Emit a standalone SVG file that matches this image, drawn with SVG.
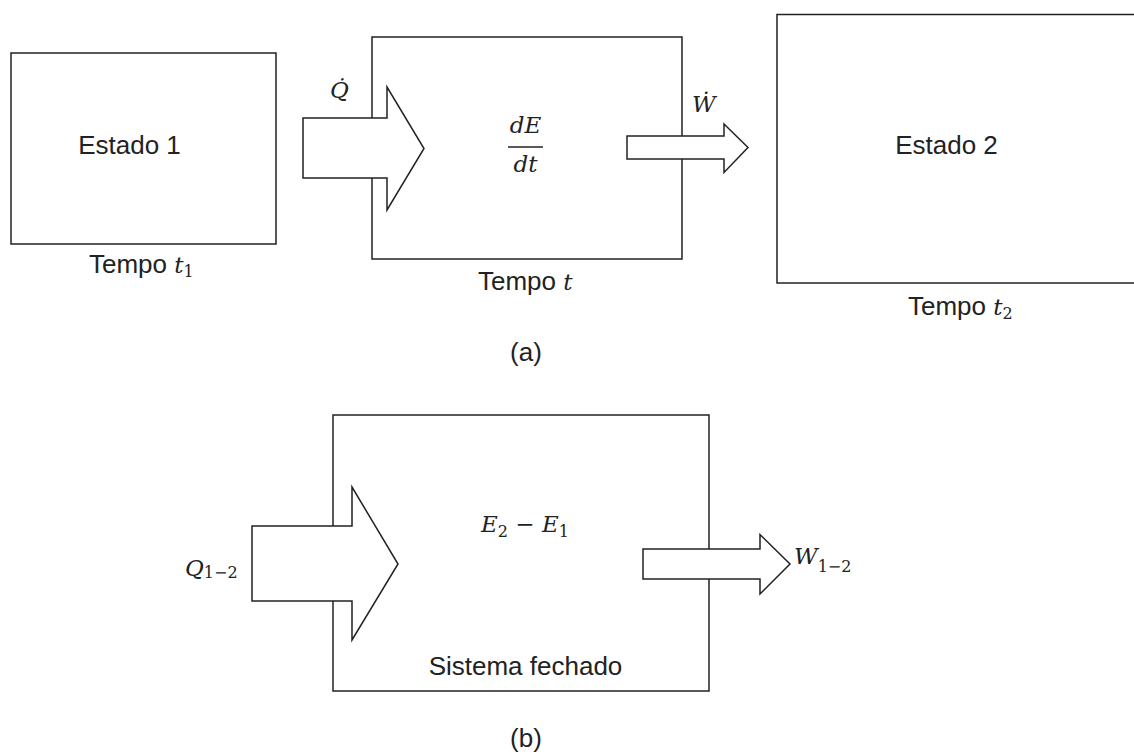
<svg xmlns="http://www.w3.org/2000/svg" width="1134" height="754" viewBox="0 0 1134 754">
<style>
  .box { fill: #ffffff; stroke: #222222; stroke-width: 1.5; }
  .arrow { fill: #ffffff; stroke: #222222; stroke-width: 1.5; stroke-linejoin: miter; }
  .lbl { font-family: "Liberation Sans", Arial, sans-serif; font-size: 26px; fill: #222222; }
  .m { font-family: "DejaVu Serif", "Liberation Serif", serif; font-style: italic; font-size: 23px; fill: #222222; }
  .mu { font-family: "DejaVu Serif", "Liberation Serif", serif; font-style: normal; fill: #222222; }
  .sub { font-family: "DejaVu Serif", "Liberation Serif", serif; font-style: normal; font-size: 16px; fill: #222222; }
</style>
<rect width="1134" height="754" fill="#ffffff"/>

<g id="estado1">
  <rect class="box" x="11" y="53" width="265" height="191"/>
  <text class="lbl" x="129.5" y="154" text-anchor="middle">Estado 1</text>
  <text class="lbl" x="89" y="273">Tempo <tspan class="m" font-size="22">t</tspan><tspan class="sub" dy="4">1</tspan></text>
</g>

<g id="sistema-a">
  <rect class="box" x="372" y="37" width="310" height="222"/>
  <text class="m" x="525.5" y="133" text-anchor="middle">dE</text>
  <line x1="508" y1="147" x2="543" y2="147" stroke="#222222" stroke-width="1.5"/>
  <text class="m" x="525.5" y="172" text-anchor="middle">dt</text>
  <text class="lbl" x="478" y="290">Tempo <tspan class="m" font-size="22">t</tspan></text>
</g>

<g id="estado2">
  <rect class="box" x="777" y="14.5" width="370" height="268.5"/>
  <text class="lbl" x="946.5" y="154" text-anchor="middle">Estado 2</text>
  <text class="lbl" x="908" y="315">Tempo <tspan class="m" font-size="22">t</tspan><tspan class="sub" dy="4">2</tspan></text>
</g>

<g id="sistema-b">
  <rect class="box" x="333" y="415" width="376" height="276"/>
  <text class="m" x="481" y="532">E<tspan class="sub" dy="5">2</tspan><tspan class="mu" dy="-5"> − </tspan>E<tspan class="sub" dy="5">1</tspan></text>
  <text class="lbl" x="525.5" y="675" text-anchor="middle">Sistema fechado</text>
</g>

<g id="connectors">
  <polygon class="arrow" points="303,118 387,118 387,87 424,148.5 387,210 387,178 303,178"/>
  <polygon class="arrow" points="627,136 724,136 724,124 748,147.5 724,172.5 724,159 627,159"/>
  <polygon class="arrow" points="252,526 352,526 352,487 398,564 352,640 352,601 252,601"/>
  <polygon class="arrow" points="643,549 760,549 760,534.5 790,564 760,594 760,579 643,579"/>
</g>

<g id="labels">
  <text class="m" x="330" y="98" font-size="21">Q̇</text>
  <text class="m" x="692" y="112" font-size="21">Ẇ</text>
  <text class="m" x="185" y="576">Q<tspan class="sub" dy="2">1−2</tspan></text>
  <text class="m" x="794" y="564">W<tspan class="sub" dy="8">1−2</tspan></text>
  <text class="lbl" x="526" y="361" text-anchor="middle">(a)</text>
  <text class="lbl" x="526" y="747" text-anchor="middle">(b)</text>
</g>
</svg>
